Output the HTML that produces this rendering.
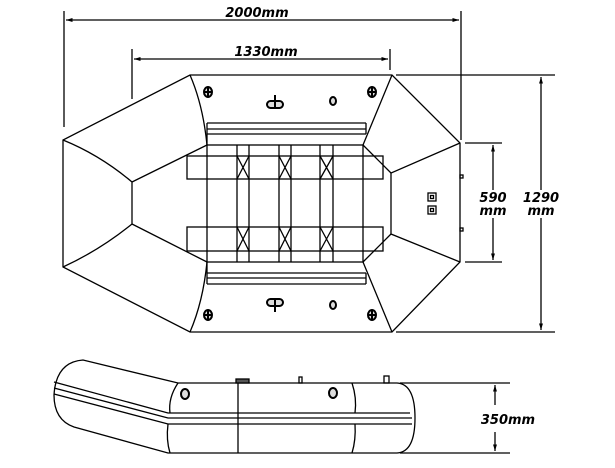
<!DOCTYPE html>
<html><head><style>html,body{margin:0;padding:0;background:#fff}svg{display:block}</style></head><body>
<svg width="615" height="468" viewBox="0 0 615 468" xmlns="http://www.w3.org/2000/svg">
<defs><marker id="a" viewBox="0 0 10 10" refX="10" refY="5" markerWidth="6" markerHeight="5" orient="auto-start-reverse"><path d="M0,2 L10,5 L0,8z" fill="#000"/></marker></defs>
<g stroke="#000" stroke-width="1.3" fill="none">
<line x1="64" y1="11" x2="64" y2="127"/><line x1="461" y1="11" x2="461" y2="140"/>
<line x1="66" y1="20" x2="459" y2="20" marker-start="url(#a)" marker-end="url(#a)"/>
<line x1="132" y1="49" x2="132" y2="99"/><line x1="390" y1="49" x2="390" y2="70"/>
<line x1="134" y1="59" x2="388" y2="59" marker-start="url(#a)" marker-end="url(#a)"/>
<line x1="396" y1="75" x2="555" y2="75"/><line x1="396" y1="332" x2="555" y2="332"/>
<line x1="541" y1="77" x2="541" y2="190" marker-start="url(#a)"/><line x1="541" y1="218" x2="541" y2="330" marker-end="url(#a)"/>
<line x1="465" y1="143" x2="502" y2="143"/><line x1="465" y1="262" x2="502" y2="262"/>
<line x1="493" y1="145" x2="493" y2="190" marker-start="url(#a)"/><line x1="493" y1="218" x2="493" y2="260" marker-end="url(#a)"/>
<path d="M190,75 L392,75 L460,143 L460,262 L392,332 L190,332 L63,267 L63,140 Z"/>
<path d="M190,75 Q203,105 207,145"/><path d="M190,332 Q203,302 207,262"/>
<path d="M392,75 L363,145"/><path d="M392,332 L363,262"/>
<path d="M63,140 Q100,155 132,182 L132,224 Q100,250 63,267"/>
<path d="M132,182 L207,145"/><path d="M132,224 L207,262"/>
<path d="M460,143 L391,173 L391,234 L460,262"/>
<path d="M363,145 L391,173"/><path d="M363,262 L391,234"/>
<rect x="207" y="145" width="156" height="117"/>
<line x1="207" y1="123" x2="366" y2="123"/><line x1="207" y1="129" x2="366" y2="129"/><line x1="207" y1="134" x2="366" y2="134"/>
<line x1="207" y1="273" x2="366" y2="273"/><line x1="207" y1="278" x2="366" y2="278"/><line x1="207" y1="284" x2="366" y2="284"/>
<line x1="207" y1="123" x2="207" y2="145"/><line x1="366" y1="123" x2="366" y2="134"/>
<line x1="207" y1="262" x2="207" y2="284"/><line x1="366" y1="273" x2="366" y2="284"/>
<rect x="187" y="156" width="196" height="23"/><rect x="187" y="227" width="196" height="24"/>
<line x1="237" y1="145" x2="237" y2="262"/><line x1="249" y1="145" x2="249" y2="262"/>
<line x1="279" y1="145" x2="279" y2="262"/><line x1="291" y1="145" x2="291" y2="262"/>
<line x1="320" y1="145" x2="320" y2="262"/><line x1="333" y1="145" x2="333" y2="262"/>
<path d="M237,156 L249,179 M249,156 L237,179 M279,156 L291,179 M291,156 L279,179 M320,156 L333,179 M333,156 L320,179"/>
<path d="M237,227 L249,251 M249,227 L237,251 M279,227 L291,251 M291,227 L279,251 M320,227 L333,251 M333,227 L320,251"/>
<rect x="428" y="193" width="8" height="8"/><rect x="428" y="206" width="8" height="8"/>
<rect x="430.5" y="195.5" width="3" height="3"/><rect x="430.5" y="208.5" width="3" height="3"/>
<rect x="460" y="175" width="3" height="3"/><rect x="460" y="228" width="3" height="3"/>
</g>
<g stroke="#000" stroke-width="2" fill="#ddd">
<ellipse cx="208" cy="92" rx="4" ry="5"/><ellipse cx="372" cy="92" rx="4" ry="5"/>
<ellipse cx="208" cy="315" rx="4" ry="5"/><ellipse cx="372" cy="315" rx="4" ry="5"/>
<path d="M205,92h6M208,87v10M369,92h6M372,87v10M205,315h6M208,310v10M369,315h6M372,310v10"/>
<ellipse cx="333" cy="101" rx="3" ry="4"/><ellipse cx="333" cy="305" rx="3" ry="4"/>
<rect x="267" y="101" width="16" height="7" rx="3.5"/><line x1="275" y1="95" x2="275" y2="108"/>
<rect x="267" y="299" width="16" height="7" rx="3.5"/><line x1="275" y1="299" x2="275" y2="312"/>
</g>
<g stroke="#000" stroke-width="1.3" fill="none">
<path d="M178,383 L397,383 Q415,384 415,418 Q415,452 397,453 L168,453 L74,427 Q54,420 54,395 Q56,362 83,360 Z"/>
<path d="M54,382 L168,413 L410,413"/><path d="M54,388 L168,418 L412,418"/><path d="M54,394 L168,424 L412,424"/>
<path d="M178,383 Q168,398 170,413 M168,424 Q166,440 170,453"/>
<path d="M352,383 Q357,398 355,413 M355,424 Q356,440 352,453"/>
<line x1="238" y1="383" x2="238" y2="453"/>
<rect x="236" y="379" width="13" height="4" fill="#555"/><rect x="299" y="377" width="3" height="6"/><rect x="384" y="376" width="5" height="7"/>
<line x1="400" y1="383" x2="510" y2="383"/><line x1="400" y1="453" x2="510" y2="453"/>
<line x1="495" y1="385" x2="495" y2="405" marker-start="url(#a)"/><line x1="495" y1="432" x2="495" y2="451" marker-end="url(#a)"/>
</g>
<g stroke="#000" stroke-width="2" fill="#ddd">
<ellipse cx="185" cy="394" rx="4" ry="5"/><ellipse cx="333" cy="393" rx="4" ry="5"/>
</g>
<g font-family="DejaVu Sans, sans-serif" font-weight="bold" font-style="italic" font-size="13" fill="#000">
<text x="257" y="17" text-anchor="middle">2000mm</text>
<text x="266" y="56" text-anchor="middle">1330mm</text>
<text x="493" y="202" text-anchor="middle">590</text>
<text x="493" y="215" text-anchor="middle">mm</text>
<text x="541" y="202" text-anchor="middle">1290</text>
<text x="541" y="215" text-anchor="middle">mm</text>
<text x="508" y="424" text-anchor="middle">350mm</text>
</g>
</svg>
</body></html>
